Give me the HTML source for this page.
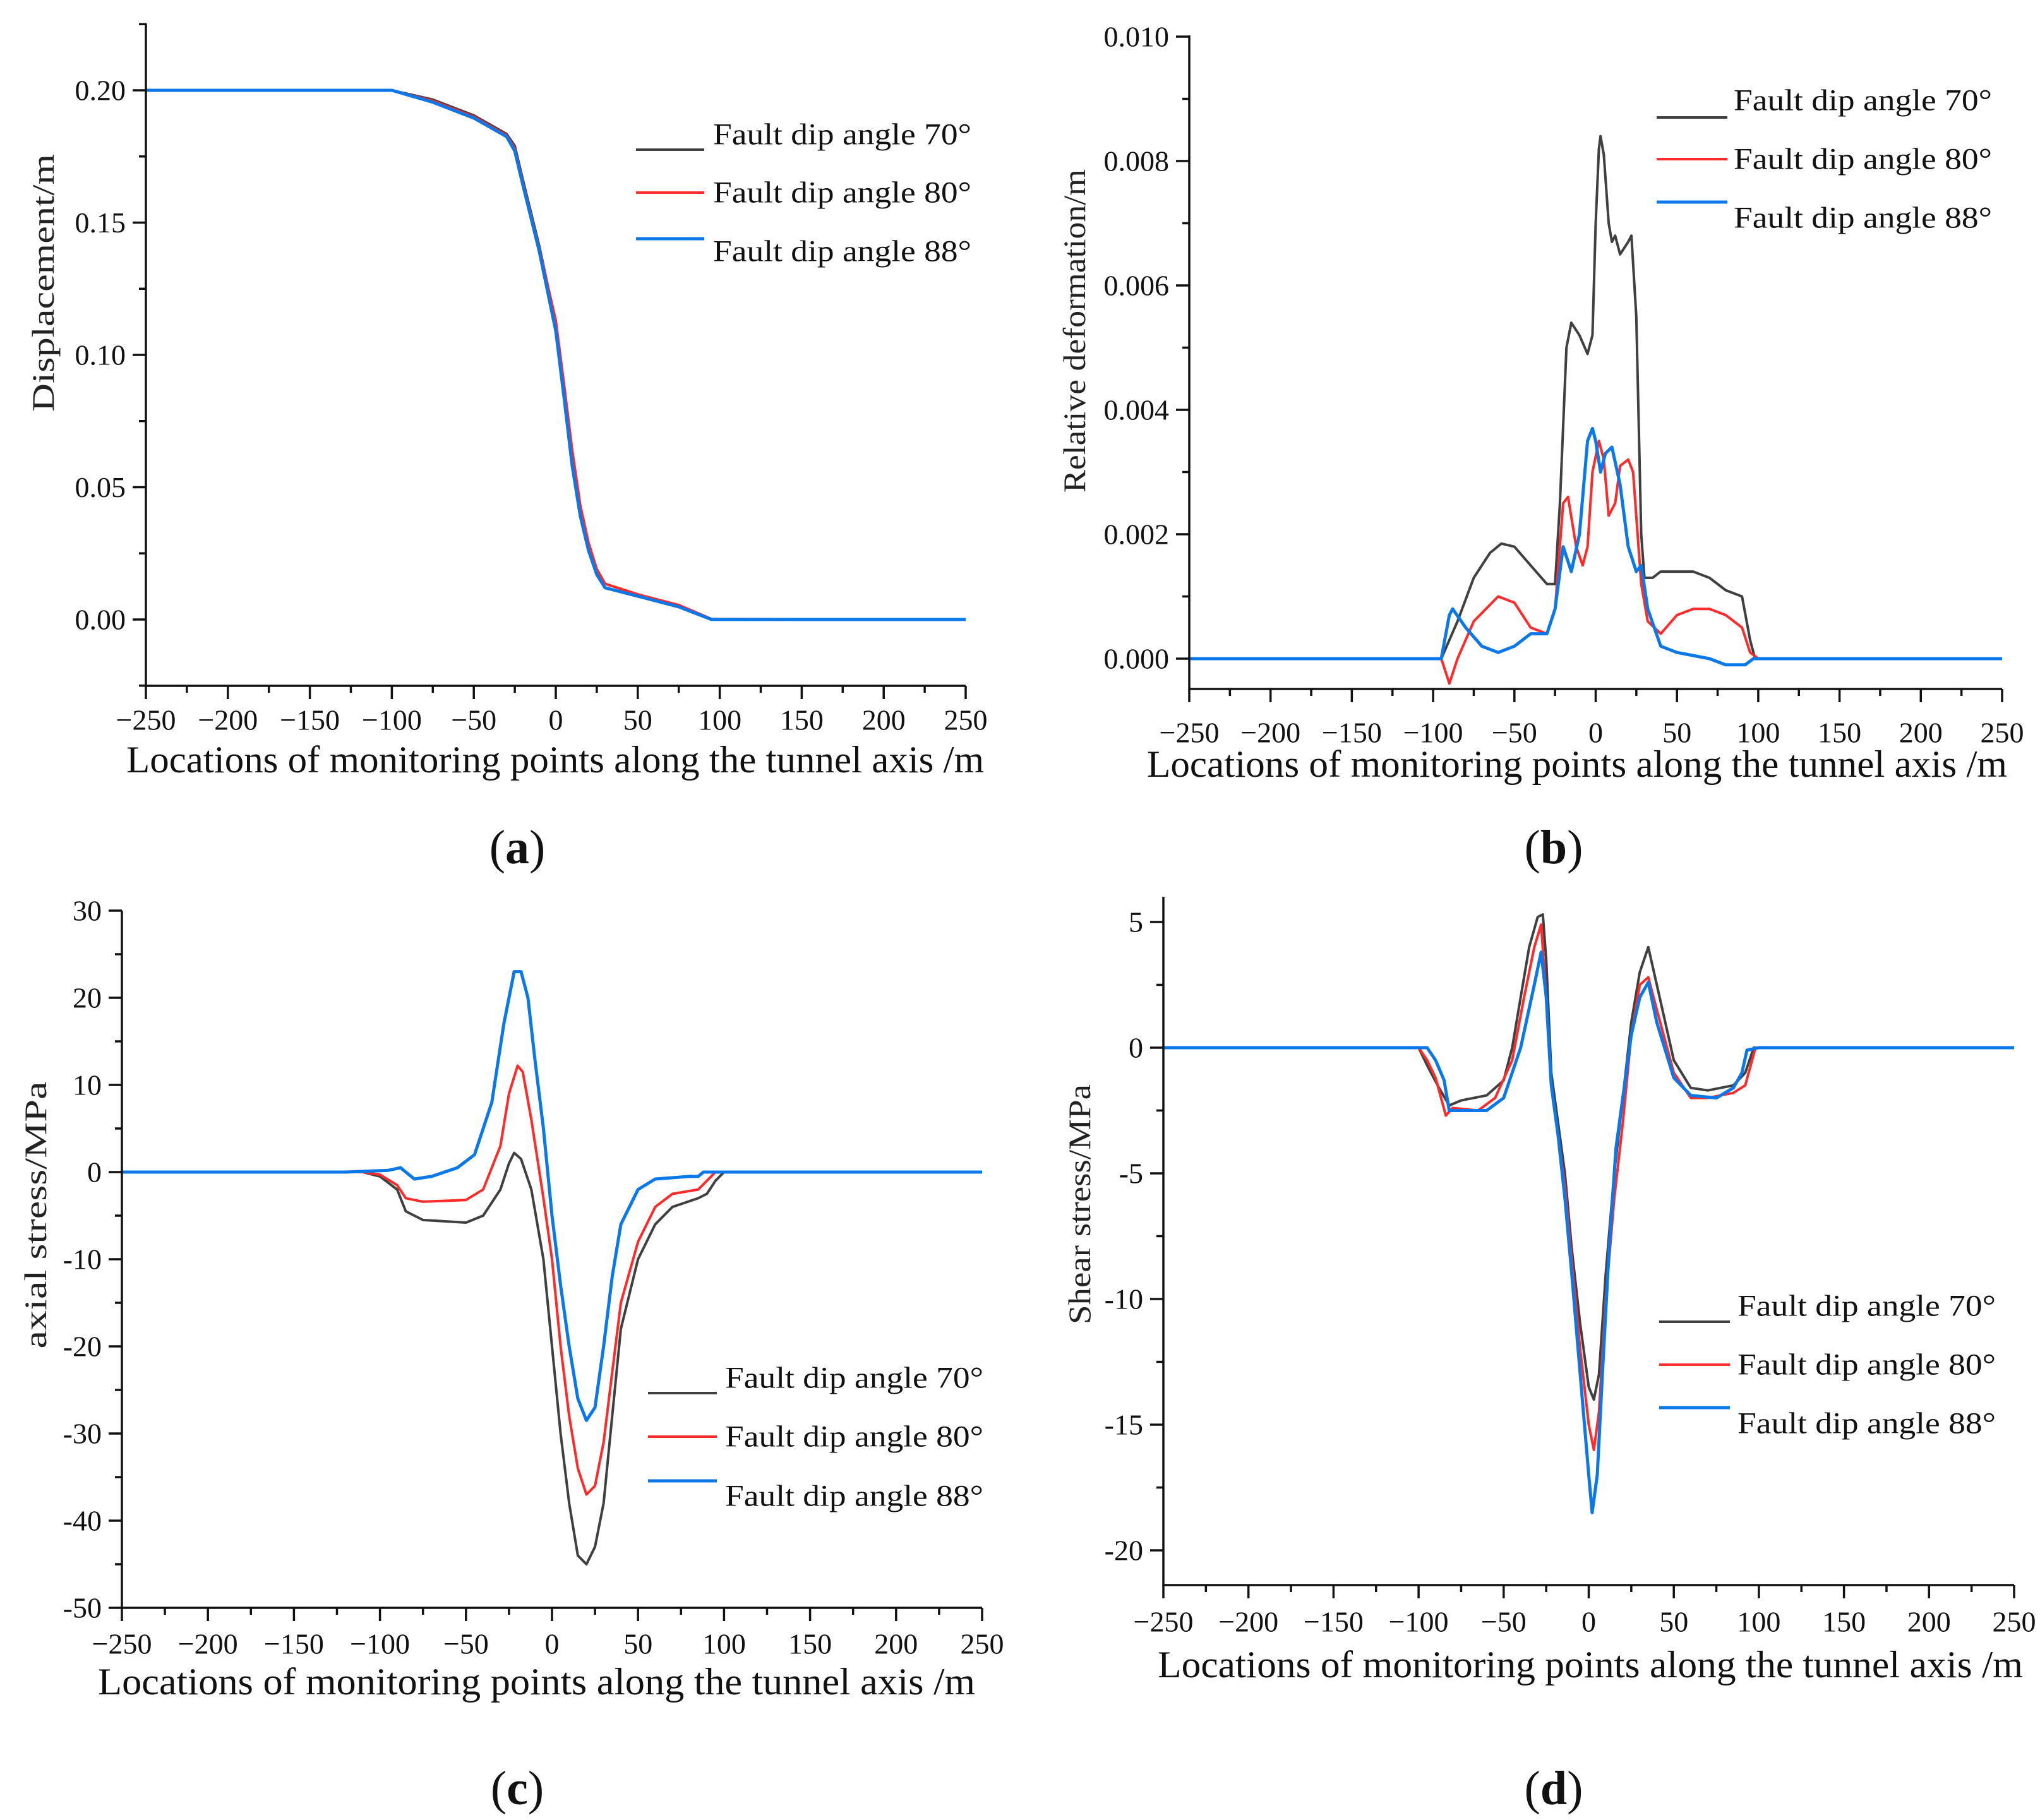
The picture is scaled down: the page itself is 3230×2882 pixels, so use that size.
<!DOCTYPE html>
<html><head><meta charset="utf-8"><style>
html,body{margin:0;padding:0;background:#fff;}
svg{display:block;font-family:"Liberation Serif",serif;}
</style></head><body>
<svg id="fig" width="3230" height="2882" viewBox="0 0 3230 2882" xmlns="http://www.w3.org/2000/svg"></svg>
<script>
// ---------- DATA ----------
// Panel (a) displacement
const aX70 = [-250,-100,-75,-50,-30,-25,-20,-10,0,5,10,15,20,25,30,50,75,95,250];
const aY70 = [0.2,0.2,0.1965,0.1905,0.1835,0.179,0.166,0.141,0.112,0.087,0.062,0.042,0.028,0.019,0.0135,0.0095,0.0052,0,0];
const aY80 = [0.2,0.2,0.196,0.19,0.183,0.178,0.165,0.14,0.113,0.089,0.064,0.043,0.029,0.019,0.0135,0.0095,0.0055,0.0002,0];
const aY88 = [0.2,0.2,0.1955,0.1895,0.1825,0.177,0.164,0.139,0.109,0.084,0.058,0.039,0.026,0.017,0.012,0.0088,0.0048,0,0];
// Panel (b) relative deformation
const bX70 = [-250,-95,-85,-75,-65,-58,-50,-40,-30,-25,-22,-18,-15,-10,-5,-2,0,2,3,5,8,10,12,15,20,22,25,28,30,35,40,60,70,80,90,95,98,250];
const bY70 = [0,0,0.0006,0.0013,0.0017,0.00185,0.0018,0.0015,0.0012,0.0012,0.0025,0.005,0.0054,0.0052,0.0049,0.0052,0.007,0.0082,0.0084,0.0081,0.007,0.0067,0.0068,0.0065,0.0067,0.0068,0.0055,0.002,0.0013,0.0013,0.0014,0.0014,0.0013,0.0011,0.001,0.0003,0,0];
const bX80 = [-250,-95,-90,-85,-75,-60,-50,-40,-30,-25,-20,-17,-12,-8,-5,-2,2,5,8,12,15,20,23,28,32,40,50,60,70,80,90,95,100,250];
const bY80 = [0,0,-0.0004,0,0.0006,0.001,0.0009,0.0005,0.0004,0.0008,0.0025,0.0026,0.0018,0.0015,0.0018,0.003,0.0035,0.0032,0.0023,0.0025,0.0031,0.0032,0.003,0.0012,0.0006,0.0004,0.0007,0.0008,0.0008,0.0007,0.0005,0.0001,0,0];
const bX88 = [-250,-95,-90,-88,-80,-70,-60,-50,-40,-30,-25,-20,-15,-10,-5,-2,0,3,6,10,15,20,25,28,32,40,50,70,80,92,97,250];
const bY88 = [0,0,0.0007,0.0008,0.0005,0.0002,0.0001,0.0002,0.0004,0.0004,0.0008,0.0018,0.0014,0.002,0.0035,0.0037,0.0035,0.003,0.0033,0.0034,0.0028,0.0018,0.0014,0.0015,0.0008,0.0002,0.0001,0,-0.0001,-0.0001,0,0];
// Panel (c) axial stress
const cX70 = [-250,-110,-100,-90,-85,-75,-50,-40,-30,-25,-22,-18,-12,-5,0,5,10,15,20,25,30,35,40,50,60,70,85,90,95,100,250];
const cY70 = [0,0,-0.5,-2,-4.5,-5.5,-5.8,-5,-2,1,2.2,1.5,-2,-10,-20,-30,-38,-44,-45,-43,-38,-28,-18,-10,-6,-4,-3,-2.5,-1,0,0];
const cX80 = [-250,-110,-100,-90,-85,-75,-50,-40,-30,-25,-20,-17,-12,-5,0,5,10,15,20,25,30,35,40,50,60,70,85,90,95,250];
const cY80 = [0,0,-0.3,-1.5,-3,-3.4,-3.2,-2,3,9,12.2,11.5,6,-3,-10,-20,-28,-34,-37,-36,-31,-23,-15,-8,-4,-2.5,-2,-1,0,0];
const cX88 = [-250,-120,-95,-88,-85,-80,-70,-55,-45,-35,-28,-22,-18,-14,-10,-5,0,5,10,15,20,25,30,35,40,50,60,80,85,88,250];
const cY88 = [0,0,0.2,0.5,0,-0.8,-0.5,0.5,2,8,17,23,23,20,13,5,-5,-13,-20,-26,-28.5,-27,-20,-12,-6,-2,-0.8,-0.5,-0.5,0,0];
// Panel (d) shear stress
const dX70 = [-250,-100,-95,-88,-82,-75,-60,-50,-45,-40,-35,-30,-27,-25,-22,-18,-14,-10,-5,0,3,6,10,15,20,25,30,35,40,50,60,70,85,92,97,250];
const dY70 = [0,0,-0.7,-1.6,-2.3,-2.1,-1.9,-1.3,0,2,4,5.2,5.3,3.5,-1,-3,-5,-8,-11,-13.5,-14,-13,-9,-5,-2,1,3,4,2.5,-0.5,-1.6,-1.7,-1.5,-1,0,0];
const dX80 = [-250,-100,-95,-90,-84,-80,-65,-55,-45,-38,-32,-28,-25,-22,-18,-14,-10,-5,0,3,6,10,15,20,25,30,35,40,50,60,70,85,92,98,250];
const dY80 = [0,0,-0.5,-1.2,-2.7,-2.4,-2.5,-2,-0.5,2,4,4.9,2,-1.5,-3.5,-5.5,-8.5,-12,-15,-16,-14.5,-10,-6,-3,0.5,2.5,2.8,1.5,-1,-2,-2,-1.8,-1.5,0,0];
const dX88 = [-250,-95,-90,-85,-82,-75,-60,-50,-40,-32,-28,-25,-22,-18,-14,-10,-5,0,2,5,8,12,16,20,25,30,35,40,50,60,75,85,90,93,100,250];
const dY88 = [0,0,-0.5,-1.3,-2.5,-2.5,-2.5,-2,0,2.5,3.8,2,-1.5,-3.5,-6,-9,-13,-17,-18.5,-17,-13,-8,-4,-2,0.5,2,2.6,1,-1.2,-1.9,-2,-1.6,-1,-0.1,0,0];

const xTicks = [-250,-200,-150,-100,-50,0,50,100,150,200,250];
const aYTicks = [0,0.05,0.10,0.15,0.20];
const aYLabels = ["0.00","0.05","0.10","0.15","0.20"];
const bYTicks = [0,0.002,0.004,0.006,0.008,0.010];
const bYLabels = ["0.000","0.002","0.004","0.006","0.008","0.010"];
const cYTicks = [30,20,10,0,-10,-20,-30,-40,-50];
const cYLabels = ["30","20","10","0","-10","-20","-30","-40","-50"];
const dYTicks = [5,0,-5,-10,-15,-20];
const dYLabels = ["5","0","-5","-10","-15","-20"];
const legendLabels = ["Fault dip angle 70°","Fault dip angle 80°","Fault dip angle 88°"];
const seriesColors = ["#404040","#ff2a2a","#0a78e8"];

// ---------- DRAW ----------
const NS="http://www.w3.org/2000/svg";
const svg=document.getElementById('fig');
function mk(tag,attrs,parent){const e=document.createElementNS(NS,tag);for(const k in attrs)e.setAttribute(k,attrs[k]);(parent||svg).appendChild(e);return e;}
function txt(s,attrs,parent){const e=mk('text',attrs,parent);e.textContent=s;return e;}

function panel(P){
  const g=mk('g',{});
  
  
  const sx=v=>P.x0+(v+250)/500*(P.x1-P.x0);
  const sy=v=>P.yZero-(v-P.vZero)*P.k;
  // series
  const sets=[[P.X[0],P.Y[0]],[P.X[1],P.Y[1]],[P.X[2],P.Y[2]]];
  sets.forEach((s,i)=>{
    const pts=s[0].map((x,j)=>sx(x).toFixed(1)+','+sy(s[1][j]).toFixed(1)).join(' ');
    const pl=mk('polyline',{points:pts,fill:'none',stroke:seriesColors[i],'stroke-width':i==2?5:4,'stroke-linejoin':'round'},g);
    
    
  });
  // axes
  const ax=mk('path',{d:`M${P.x0},${P.top} V${P.bottom} H${P.x1}`,fill:'none',stroke:'#111','stroke-width':3.5},g);
  
  
  for(let v=-250;v<=250;v+=25){
    const major=v%50===0;
    mk('line',{x1:sx(v),x2:sx(v),y1:P.bottom,y2:P.bottom+(major?21:11),stroke:'#111','stroke-width':3.5},g);
  }
  xTicks.forEach(v=>{
    const t=txt(v<0?'−'+(-v):String(v),{x:sx(v),y:P.xlabY,'font-size':46,'text-anchor':'middle','dominant-baseline':'central',fill:'#111'},g);
    
    
  });
  // y ticks
  const step=P.ytick[0]-P.ytick[1];
  P.ytick.forEach((v,i)=>{
    mk('line',{x1:P.x0-21,x2:P.x0,y1:sy(v),y2:sy(v),stroke:'#111','stroke-width':3.5},g);
    const t=txt(P.ylab[i],{x:P.x0-32,y:sy(v),'font-size':46,'text-anchor':'end','dominant-baseline':'central',fill:'#111'},g);
    
    
  });
  const half=Math.abs(step)/2;
  const vmin=P.vZero-(P.bottom-P.yZero)/P.k, vmax=P.vZero+(P.yZero-P.top)/P.k;
  for(let v=Math.min(...P.ytick)-half*4;v<=vmax+1e-9;v+=half){
    if(v<vmin-1e-9)continue;
    const isMajor=P.ytick.some(t=>Math.abs(t-v)<half*0.1);
    if(!isMajor) mk('line',{x1:P.x0-11,x2:P.x0,y1:sy(v),y2:sy(v),stroke:'#111','stroke-width':3.5},g);
  }
  // titles
  const xt=txt('Locations of monitoring points along the tunnel axis /m',{x:P.xt[0],y:P.xt[1],'font-size':60,textLength:P.xt[2],lengthAdjust:'spacingAndGlyphs','dominant-baseline':'central',fill:'#111'},g);
  
  
  const yt=txt(P.ytitle,{x:0,y:0,'font-size':50,textLength:P.yt[2],lengthAdjust:'spacingAndGlyphs','text-anchor':'middle','dominant-baseline':'central',fill:'#222',transform:`translate(${P.yt[0]},${P.yt[1]}) rotate(-90)`},g);
  
  
  // legend
  const lg=mk('g',{},g);
  
  
  legendLabels.forEach((s,i)=>{
    mk('line',{x1:P.lg.lx0,x2:P.lg.lx1,y1:P.lg.lines[i],y2:P.lg.lines[i],stroke:seriesColors[i],'stroke-width':i==2?5:4},lg);
    const t=txt(s,{x:P.lg.tx,y:P.lg.texts[i],'font-size':48,textLength:409,lengthAdjust:'spacingAndGlyphs','dominant-baseline':'central',fill:'#111'},lg);
    
    
  });
  // subfigure label
  const sl=mk('text',{x:P.sub[0],y:P.sub[1],'font-size':76,'text-anchor':'middle','dominant-baseline':'central',fill:'#111'},g);
  
  
  sl.appendChild(document.createTextNode('('));
  const b=document.createElementNS(NS,'tspan');b.setAttribute('font-weight','bold');b.textContent=P.letter;sl.appendChild(b);
  sl.appendChild(document.createTextNode(')'));
}

panel({name:'panel-a-displacement',x0:231,x1:1529,top:37,bottom:1086,yZero:981,vZero:0,k:4190,
  X:[aX70,aX70,aX70],Y:[aY70,aY80,aY88],ytick:aYTicks.slice().reverse(),ylab:aYLabels.slice().reverse(),
  xlabY:1140,xt:[200,1203,1358],ytitle:'Displacement/m',yt:[68,448,408],
  lg:{lx0:1007,lx1:1115,tx:1129,lines:[237,305,378],texts:[213,305,398]},sub:[819,1342],letter:'a'});
panel({name:'panel-b-relative-deformation',x0:1883,x1:3170,top:56,bottom:1091,yZero:1043,vZero:0,k:98500,
  X:[bX70,bX80,bX88],Y:[bY70,bY80,bY88],ytick:bYTicks.slice().reverse(),ylab:bYLabels.slice().reverse(),
  xlabY:1160,xt:[1816,1210,1362],ytitle:'Relative deformation/m',yt:[1701,524,512],
  lg:{lx0:2623,lx1:2735,tx:2745,lines:[186,252,320],texts:[159,252,345]},sub:[2460,1342],letter:'b'});
panel({name:'panel-c-axial-stress',x0:193,x1:1555,top:1442,bottom:2546,yZero:1442,vZero:30,k:13.8,
  X:[cX70,cX80,cX88],Y:[cY70,cY80,cY88],ytick:cYTicks,ylab:cYLabels,
  xlabY:2603,xt:[155,2663,1389],ytitle:'axial stress/MPa',yt:[56,1924,423],
  lg:{lx0:1026,lx1:1135,tx:1148,lines:[2206,2275,2345],texts:[2182,2275,2369]},sub:[819,2832],letter:'c'});
panel({name:'panel-d-shear-stress',x0:1842,x1:3189,top:1420,bottom:2510,yZero:1659,vZero:0,k:39.8,
  X:[dX70,dX80,dX88],Y:[dY70,dY80,dY88],ytick:dYTicks,ylab:dYLabels,
  xlabY:2568,xt:[1833,2636,1370],ytitle:'Shear stress/MPa',yt:[1709,1907,380],
  lg:{lx0:2627,lx1:2739,tx:2751,lines:[2093,2161,2229],texts:[2068,2161,2254]},sub:[2460,2832],letter:'d'});
</script>
</body></html>
